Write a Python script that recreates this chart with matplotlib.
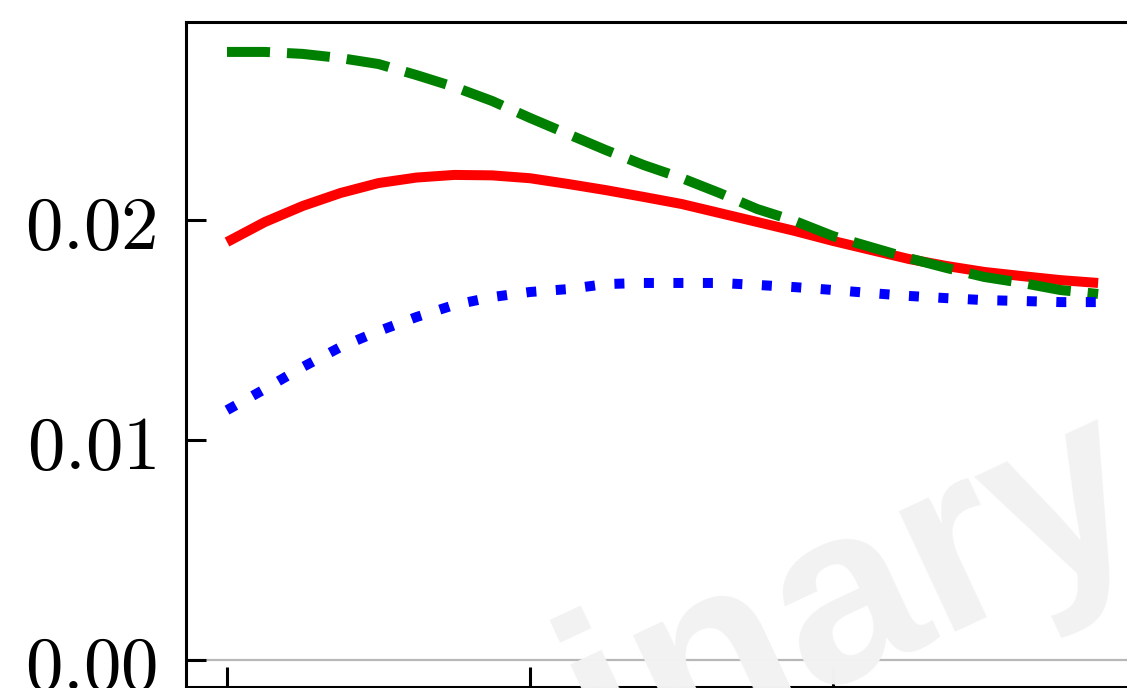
import numpy as np
import matplotlib
matplotlib.use("Agg")
import matplotlib.pyplot as plt
from matplotlib.ticker import FuncFormatter

plt.rcParams["mathtext.fontset"] = "cm"

# valores
x = [0, 0.125, 0.25, 0.375, 0.5, 0.625, 0.75, 0.875, 1.0, 1.125, 1.25, 1.375,
     1.5, 1.625, 1.75, 1.875, 2.0, 2.125, 2.25, 2.375, 2.5, 2.625, 2.75, 2.875]
vermelho = [0.0190, 0.01991, 0.02064, 0.02123, 0.02168, 0.02193, 0.02205, 0.02203,
            0.0219, 0.02164, 0.02136, 0.02105, 0.02073, 0.02032, 0.01991, 0.0195,
            0.01905, 0.01864, 0.01823, 0.01791, 0.01764, 0.01745, 0.01727, 0.01714]
verde = [0.02764, 0.02764, 0.02755, 0.02736, 0.02709, 0.02659, 0.02605, 0.02541,
         0.02464, 0.02391, 0.02318, 0.0225, 0.02191, 0.02123, 0.0205, 0.01995,
         0.01927, 0.01877, 0.01827, 0.01782, 0.01741, 0.01714, 0.01682, 0.01664]
azul = [0.01136, 0.01232, 0.01332, 0.01423, 0.01495, 0.01559, 0.01614, 0.0165,
        0.01673, 0.01686, 0.01709, 0.01714, 0.01714, 0.01714, 0.01705, 0.01695,
        0.01682, 0.01668, 0.01655, 0.01645, 0.01636, 0.01632, 0.01627, 0.01627]

yticks = [0.00, 0.01, 0.02]
xticks = [0, 1, 2]

W, H = 1127, 688
fig = plt.figure(figsize=(W / 100, H / 100), dpi=100)

# eixo maior que a figura (recorte)
esq, dir_, topo, base = 186, 1200, 22, 686.5
ax = fig.add_axes([esq / W, 1 - base / H, (dir_ - esq) / W, (base - topo) / H])

lw = 7.2
ax.axhline(0, color="#b8b8b8", lw=1.6, zorder=1)
ax.plot(x, vermelho, color="red", lw=lw, solid_capstyle="butt")
ax.plot(x, verde, color="green", lw=lw, linestyle=(0, (4.3, 1.7)))
ax.plot(x, azul, color="blue", lw=lw, linestyle=(0, (1, 1.95)))

ax.set_xlim(-41 / 303, (dir_ - 227) / 303)
ax.set_ylim(-0.0012, 0.0290)

ax.set_xticks(xticks)
ax.set_xticklabels([])
ax.set_yticks(yticks)
ax.yaxis.set_major_formatter(FuncFormatter(lambda v, p: f"${v:.2f}$"))

for s in ax.spines.values():
    s.set_linewidth(2.2)
ax.tick_params(direction="in", length=14.4, width=2.2, labelsize=54, pad=21)

# marca d'agua
fig.text(534 / W, -133 / H, "Preliminary", fontsize=181, family="Liberation Sans",
         weight="bold", color="#f2f2f2", rotation=25, rotation_mode="anchor",
         ha="center", va="baseline", zorder=0)

fig.savefig("out.png", dpi=100)
